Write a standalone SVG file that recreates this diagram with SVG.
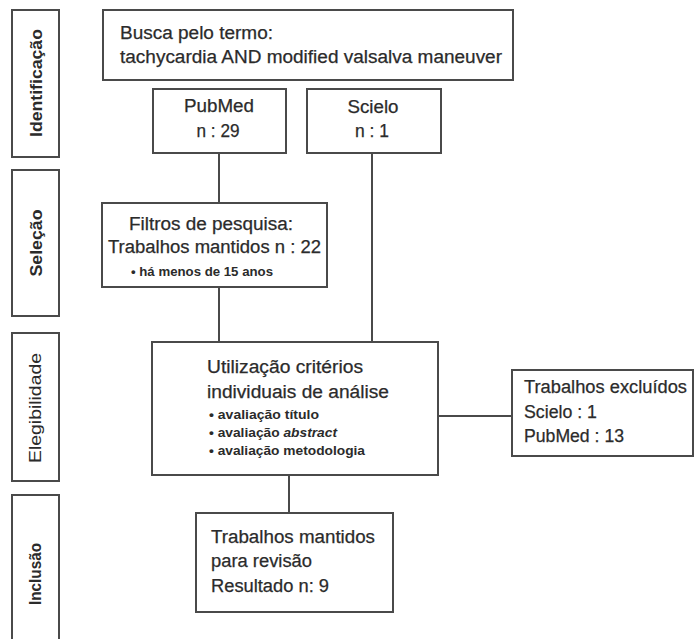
<svg xmlns="http://www.w3.org/2000/svg" width="695" height="639" viewBox="0 0 695 639">
<style>
.box{fill:#fff;stroke:#4a4a4a;stroke-width:2}
.ln{fill:none;stroke:#4a4a4a;stroke-width:2}
.t{font-family:"Liberation Sans",Arial,sans-serif;font-size:18px;fill:#2b2b2b;stroke:#2b2b2b;stroke-width:0.25}
.s{font-family:"Liberation Sans",Arial,sans-serif;font-size:13px;font-weight:bold;fill:#2b2b2b}
.lab{font-family:"Liberation Sans",Arial,sans-serif;font-size:16px;font-weight:bold;fill:#2b2b2b}
.labr{font-family:"Liberation Sans",Arial,sans-serif;font-size:17px;fill:#2b2b2b}
</style>
<rect width="695" height="639" fill="#fff"/>
<g id="stage-identificacao">
<rect class="box" x="12" y="10" width="47" height="147"/>
<text class="lab" transform="translate(42,83) rotate(-90)" text-anchor="middle" textLength="108" lengthAdjust="spacingAndGlyphs">Identificação</text>
</g>
<g id="stage-selecao">
<rect class="box" x="12" y="170" width="47" height="146"/>
<text class="lab" transform="translate(42,243) rotate(-90)" text-anchor="middle" textLength="67" lengthAdjust="spacingAndGlyphs">Seleção</text>
</g>
<g id="stage-elegibilidade">
<rect class="box" x="12" y="333" width="47" height="148"/>
<text class="labr" transform="translate(41,408) rotate(-90)" text-anchor="middle" textLength="110" lengthAdjust="spacingAndGlyphs">Elegibilidade</text>
</g>
<g id="stage-inclusao">
<rect class="box" x="12" y="495" width="47" height="160"/>
<text class="lab" transform="translate(41,574) rotate(-90)" text-anchor="middle" textLength="62" lengthAdjust="spacingAndGlyphs">Inclusão</text>
</g>
<g id="connectors">
<line class="ln" x1="219" y1="153" x2="219" y2="203"/>
<line class="ln" x1="219" y1="287" x2="219" y2="342"/>
<line class="ln" x1="372" y1="153" x2="372" y2="342"/>
<line class="ln" x1="438" y1="416" x2="512" y2="416"/>
<line class="ln" x1="289" y1="475" x2="289" y2="513"/>
</g>
<g id="busca">
<rect class="box" x="103" y="10" width="410" height="70"/>
<text class="t" x="120" y="39" textLength="153" lengthAdjust="spacingAndGlyphs">Busca pelo termo:</text>
<text class="t" x="120" y="63" textLength="382" lengthAdjust="spacingAndGlyphs">tachycardia AND modified valsalva maneuver</text>
</g>
<g id="pubmed">
<rect class="box" x="153" y="89" width="133" height="64"/>
<text class="t" x="219" y="112" text-anchor="middle" textLength="70" lengthAdjust="spacingAndGlyphs">PubMed</text>
<text class="t" x="218" y="137" text-anchor="middle" textLength="43" lengthAdjust="spacingAndGlyphs">n : 29</text>
</g>
<g id="scielo">
<rect class="box" x="307" y="89" width="134" height="64"/>
<text class="t" x="373" y="113" text-anchor="middle" textLength="51" lengthAdjust="spacingAndGlyphs">Scielo</text>
<text class="t" x="372" y="137" text-anchor="middle" textLength="34" lengthAdjust="spacingAndGlyphs">n : 1</text>
</g>
<g id="filtros">
<rect class="box" x="102" y="203" width="225" height="84"/>
<text class="t" x="129" y="230" textLength="164" lengthAdjust="spacingAndGlyphs">Filtros de pesquisa:</text>
<text class="t" x="108" y="253" textLength="213" lengthAdjust="spacingAndGlyphs">Trabalhos mantidos n : 22</text>
<text class="s" x="131" y="276" textLength="142" lengthAdjust="spacingAndGlyphs">• há menos de 15 anos</text>
</g>
<g id="criterios">
<rect class="box" x="152" y="342" width="286" height="133"/>
<text class="t" x="207" y="373" textLength="156" lengthAdjust="spacingAndGlyphs">Utilização critérios</text>
<text class="t" x="207" y="398" textLength="182" lengthAdjust="spacingAndGlyphs">individuais de análise</text>
<text class="s" x="209" y="419" textLength="110" lengthAdjust="spacingAndGlyphs">• avaliação título</text>
<text class="s" x="209" y="437" textLength="128" lengthAdjust="spacingAndGlyphs">• avaliação <tspan font-style="italic">abstract</tspan></text>
<text class="s" x="209" y="455" textLength="156" lengthAdjust="spacingAndGlyphs">• avaliação metodologia</text>
</g>
<g id="excluidos">
<rect class="box" x="512" y="370" width="181" height="86"/>
<text class="t" x="524" y="393" textLength="163" lengthAdjust="spacingAndGlyphs">Trabalhos excluídos</text>
<text class="t" x="524" y="418" textLength="73" lengthAdjust="spacingAndGlyphs">Scielo : 1</text>
<text class="t" x="524" y="442" textLength="100" lengthAdjust="spacingAndGlyphs">PubMed : 13</text>
</g>
<g id="mantidos">
<rect class="box" x="196" y="513" width="197" height="99"/>
<text class="t" x="211" y="543" textLength="164" lengthAdjust="spacingAndGlyphs">Trabalhos mantidos</text>
<text class="t" x="211" y="567" textLength="101" lengthAdjust="spacingAndGlyphs">para revisão</text>
<text class="t" x="211" y="592" textLength="118" lengthAdjust="spacingAndGlyphs">Resultado n: 9</text>
</g>
</svg>
